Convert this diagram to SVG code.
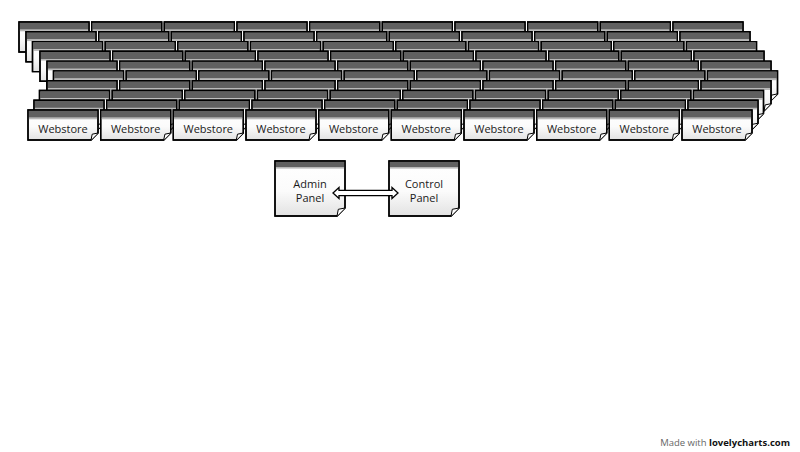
<svg xmlns="http://www.w3.org/2000/svg" xmlns:xlink="http://www.w3.org/1999/xlink" width="800" height="452" viewBox="0 0 800 452">
<style>
.body{stroke:#000;stroke-width:1.4;stroke-linejoin:miter}
.hdr{fill:#606060}
.strip{fill:#b8b8b8}
.ear{fill:#fff;stroke:#000;stroke-width:1}
.lbl{font-family:"Open Sans","DejaVu Sans",sans-serif;font-size:11px;fill:#1a1a1a;text-anchor:middle}
.conn{fill:#fff;stroke:#000;stroke-width:1.3;stroke-linejoin:miter}
</style>
<defs>
<linearGradient id="g" x1="0" y1="0" x2="0" y2="1">
<stop offset="0" stop-color="#ffffff"/>
<stop offset="0.55" stop-color="#fbfbfb"/>
<stop offset="1" stop-color="#e2e2e2"/>
</linearGradient>
<symbol id="ws" overflow="visible">
<path d="M0,0H70V23L63,30H0Z" fill="url(#g)" class="body"/>
<rect x="0.7" y="0.7" width="68.6" height="7" class="hdr"/>
<rect x="0.7" y="7.7" width="68.6" height="1.6" class="strip"/>
<path d="M0,0H70V23L63,30H0Z" fill="none" class="body"/>
<path d="M63,30L64.2,24.2L70,23" class="ear"/>
</symbol>
<symbol id="pn" overflow="visible">
<path d="M0,0H70V47L62,55H0Z" fill="url(#g)" class="body"/>
<rect x="0.7" y="0.7" width="68.6" height="5.3" class="hdr"/>
<rect x="0.7" y="6" width="68.6" height="1.6" class="strip"/>
<path d="M0,0H70V47L62,55H0Z" fill="none" class="body"/>
<path d="M62,55L63.3,48.3L70,47" class="ear"/>
</symbol>
</defs>
<g id="nodes">
<g id="r0c0" transform="translate(19,22)"><use href="#ws"/></g>
<g id="r0c1" transform="translate(91.7,22)"><use href="#ws"/></g>
<g id="r0c2" transform="translate(164.3,22)"><use href="#ws"/></g>
<g id="r0c3" transform="translate(237,22)"><use href="#ws"/></g>
<g id="r0c4" transform="translate(309.7,22)"><use href="#ws"/></g>
<g id="r0c5" transform="translate(382.3,22)"><use href="#ws"/></g>
<g id="r0c6" transform="translate(455,22)"><use href="#ws"/></g>
<g id="r0c7" transform="translate(527.7,22)"><use href="#ws"/></g>
<g id="r0c8" transform="translate(600.3,22)"><use href="#ws"/></g>
<g id="r0c9" transform="translate(673,22)"><use href="#ws"/></g>
<g id="r1c0" transform="translate(26,31.8)"><use href="#ws"/></g>
<g id="r1c1" transform="translate(98.7,31.8)"><use href="#ws"/></g>
<g id="r1c2" transform="translate(171.3,31.8)"><use href="#ws"/></g>
<g id="r1c3" transform="translate(244,31.8)"><use href="#ws"/></g>
<g id="r1c4" transform="translate(316.7,31.8)"><use href="#ws"/></g>
<g id="r1c5" transform="translate(389.3,31.8)"><use href="#ws"/></g>
<g id="r1c6" transform="translate(462,31.8)"><use href="#ws"/></g>
<g id="r1c7" transform="translate(534.7,31.8)"><use href="#ws"/></g>
<g id="r1c8" transform="translate(607.3,31.8)"><use href="#ws"/></g>
<g id="r1c9" transform="translate(680,31.8)"><use href="#ws"/></g>
<g id="r2c0" transform="translate(32.5,41.6)"><use href="#ws"/></g>
<g id="r2c1" transform="translate(105.2,41.6)"><use href="#ws"/></g>
<g id="r2c2" transform="translate(177.8,41.6)"><use href="#ws"/></g>
<g id="r2c3" transform="translate(250.5,41.6)"><use href="#ws"/></g>
<g id="r2c4" transform="translate(323.2,41.6)"><use href="#ws"/></g>
<g id="r2c5" transform="translate(395.8,41.6)"><use href="#ws"/></g>
<g id="r2c6" transform="translate(468.5,41.6)"><use href="#ws"/></g>
<g id="r2c7" transform="translate(541.2,41.6)"><use href="#ws"/></g>
<g id="r2c8" transform="translate(613.8,41.6)"><use href="#ws"/></g>
<g id="r2c9" transform="translate(686.5,41.6)"><use href="#ws"/></g>
<g id="r3c0" transform="translate(40,51.3)"><use href="#ws"/></g>
<g id="r3c1" transform="translate(112.7,51.3)"><use href="#ws"/></g>
<g id="r3c2" transform="translate(185.3,51.3)"><use href="#ws"/></g>
<g id="r3c3" transform="translate(258,51.3)"><use href="#ws"/></g>
<g id="r3c4" transform="translate(330.7,51.3)"><use href="#ws"/></g>
<g id="r3c5" transform="translate(403.3,51.3)"><use href="#ws"/></g>
<g id="r3c6" transform="translate(476,51.3)"><use href="#ws"/></g>
<g id="r3c7" transform="translate(548.7,51.3)"><use href="#ws"/></g>
<g id="r3c8" transform="translate(621.3,51.3)"><use href="#ws"/></g>
<g id="r3c9" transform="translate(694,51.3)"><use href="#ws"/></g>
<g id="r4c0" transform="translate(47,61.1)"><use href="#ws"/></g>
<g id="r4c1" transform="translate(119.7,61.1)"><use href="#ws"/></g>
<g id="r4c2" transform="translate(192.3,61.1)"><use href="#ws"/></g>
<g id="r4c3" transform="translate(265,61.1)"><use href="#ws"/></g>
<g id="r4c4" transform="translate(337.7,61.1)"><use href="#ws"/></g>
<g id="r4c5" transform="translate(410.3,61.1)"><use href="#ws"/></g>
<g id="r4c6" transform="translate(483,61.1)"><use href="#ws"/></g>
<g id="r4c7" transform="translate(555.7,61.1)"><use href="#ws"/></g>
<g id="r4c8" transform="translate(628.3,61.1)"><use href="#ws"/></g>
<g id="r4c9" transform="translate(701,61.1)"><use href="#ws"/></g>
<g id="r5c0" transform="translate(53.5,70.9)"><use href="#ws"/></g>
<g id="r5c1" transform="translate(126.2,70.9)"><use href="#ws"/></g>
<g id="r5c2" transform="translate(198.8,70.9)"><use href="#ws"/></g>
<g id="r5c3" transform="translate(271.5,70.9)"><use href="#ws"/></g>
<g id="r5c4" transform="translate(344.2,70.9)"><use href="#ws"/></g>
<g id="r5c5" transform="translate(416.8,70.9)"><use href="#ws"/></g>
<g id="r5c6" transform="translate(489.5,70.9)"><use href="#ws"/></g>
<g id="r5c7" transform="translate(562.2,70.9)"><use href="#ws"/></g>
<g id="r5c8" transform="translate(634.8,70.9)"><use href="#ws"/></g>
<g id="r5c9" transform="translate(707.5,70.9)"><use href="#ws"/></g>
<g id="r6c0" transform="translate(47,80.7)"><use href="#ws"/></g>
<g id="r6c1" transform="translate(119.7,80.7)"><use href="#ws"/></g>
<g id="r6c2" transform="translate(192.3,80.7)"><use href="#ws"/></g>
<g id="r6c3" transform="translate(265,80.7)"><use href="#ws"/></g>
<g id="r6c4" transform="translate(337.7,80.7)"><use href="#ws"/></g>
<g id="r6c5" transform="translate(410.3,80.7)"><use href="#ws"/></g>
<g id="r6c6" transform="translate(483,80.7)"><use href="#ws"/></g>
<g id="r6c7" transform="translate(555.7,80.7)"><use href="#ws"/></g>
<g id="r6c8" transform="translate(628.3,80.7)"><use href="#ws"/></g>
<g id="r6c9" transform="translate(701,80.7)"><use href="#ws"/></g>
<g id="r7c0" transform="translate(39.5,90.5)"><use href="#ws"/></g>
<g id="r7c1" transform="translate(112.2,90.5)"><use href="#ws"/></g>
<g id="r7c2" transform="translate(184.8,90.5)"><use href="#ws"/></g>
<g id="r7c3" transform="translate(257.5,90.5)"><use href="#ws"/></g>
<g id="r7c4" transform="translate(330.2,90.5)"><use href="#ws"/></g>
<g id="r7c5" transform="translate(402.8,90.5)"><use href="#ws"/></g>
<g id="r7c6" transform="translate(475.5,90.5)"><use href="#ws"/></g>
<g id="r7c7" transform="translate(548.2,90.5)"><use href="#ws"/></g>
<g id="r7c8" transform="translate(620.8,90.5)"><use href="#ws"/></g>
<g id="r7c9" transform="translate(693.5,90.5)"><use href="#ws"/></g>
<g id="r8c0" transform="translate(34,100.2)"><use href="#ws"/></g>
<g id="r8c1" transform="translate(106.7,100.2)"><use href="#ws"/></g>
<g id="r8c2" transform="translate(179.3,100.2)"><use href="#ws"/></g>
<g id="r8c3" transform="translate(252,100.2)"><use href="#ws"/></g>
<g id="r8c4" transform="translate(324.7,100.2)"><use href="#ws"/></g>
<g id="r8c5" transform="translate(397.3,100.2)"><use href="#ws"/></g>
<g id="r8c6" transform="translate(470,100.2)"><use href="#ws"/></g>
<g id="r8c7" transform="translate(542.7,100.2)"><use href="#ws"/></g>
<g id="r8c8" transform="translate(615.3,100.2)"><use href="#ws"/></g>
<g id="r8c9" transform="translate(688,100.2)"><use href="#ws"/></g>
<g id="r9c0" transform="translate(28,110)"><use href="#ws"/><text class="lbl" x="35" y="23">Webstore</text></g>
<g id="r9c1" transform="translate(100.7,110)"><use href="#ws"/><text class="lbl" x="35" y="23">Webstore</text></g>
<g id="r9c2" transform="translate(173.3,110)"><use href="#ws"/><text class="lbl" x="35" y="23">Webstore</text></g>
<g id="r9c3" transform="translate(246,110)"><use href="#ws"/><text class="lbl" x="35" y="23">Webstore</text></g>
<g id="r9c4" transform="translate(318.7,110)"><use href="#ws"/><text class="lbl" x="35" y="23">Webstore</text></g>
<g id="r9c5" transform="translate(391.3,110)"><use href="#ws"/><text class="lbl" x="35" y="23">Webstore</text></g>
<g id="r9c6" transform="translate(464,110)"><use href="#ws"/><text class="lbl" x="35" y="23">Webstore</text></g>
<g id="r9c7" transform="translate(536.7,110)"><use href="#ws"/><text class="lbl" x="35" y="23">Webstore</text></g>
<g id="r9c8" transform="translate(609.3,110)"><use href="#ws"/><text class="lbl" x="35" y="23">Webstore</text></g>
<g id="r9c9" transform="translate(682,110)"><use href="#ws"/><text class="lbl" x="35" y="23">Webstore</text></g>
<g id="admin-panel" transform="translate(275,161)"><use href="#pn"/><text class="lbl" x="35" y="27">Admin</text><text class="lbl" x="35" y="41">Panel</text></g>
<g id="control-panel" transform="translate(389,161)"><use href="#pn"/><text class="lbl" x="35" y="27">Control</text><text class="lbl" x="35" y="41">Panel</text></g>
</g>
<g id="connectors">
<path class="conn" d="M333,193L339,187.5V190.4H392V187.5L398,193L392,198.5V195.6H339V198.5Z"/>
</g>
<text x="790" y="446" text-anchor="end" style="font-family:'Open Sans','DejaVu Sans',sans-serif;font-size:9.5px;fill:#666"><tspan>Made with </tspan><tspan style="font-weight:bold;fill:#111">lovelycharts.com</tspan></text>
</svg>
